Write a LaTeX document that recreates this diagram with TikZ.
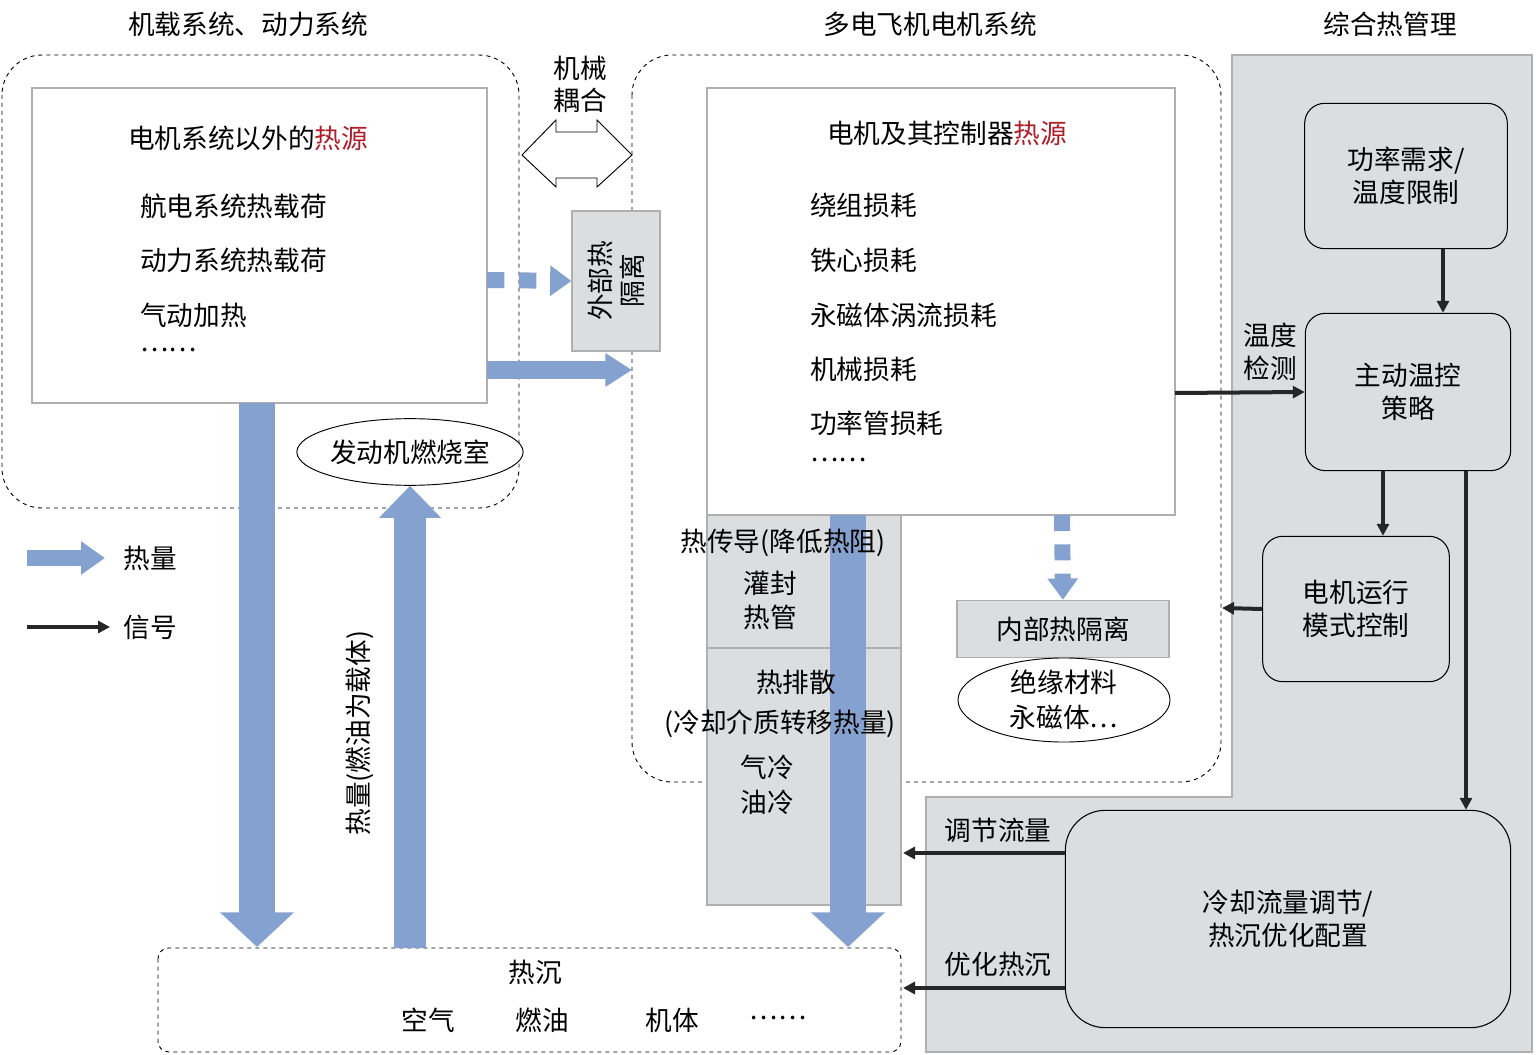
\documentclass[tikz,border=0pt]{standalone}
\usepackage{fontspec}
\setmainfont{Noto Sans CJK SC}
\usetikzlibrary{arrows.meta,shapes.geometric}
\definecolor{heat}{RGB}{133,161,207}
\definecolor{pgray}{RGB}{220,221,223}
\definecolor{bgray}{RGB}{175,175,175}
\definecolor{hred}{RGB}{175,30,40}
\begin{document}
\begin{tikzpicture}[x=0.75pt,y=-0.75pt,
  every node/.style={font=\fontsize{20}{25}\selectfont,inner sep=0pt},
  dbox/.style={draw,dashed,line width=0.7pt,rounded corners=30pt},
  wbox/.style={draw=bgray,fill=white,line width=0.8pt},
  gbox/.style={draw=bgray,fill=pgray,line width=0.8pt},
  rbox/.style={draw,line width=0.8pt,fill=pgray,rounded corners=15pt,align=center},
  heatarr/.style={draw=heat,line width=27pt,-{Triangle[width=54pt,length=26pt]}},
  upheat/.style={draw=heat,line width=24pt,-{Triangle[width=45pt,length=24pt]}},
  sig/.style={draw=black!85,line width=3pt,-{Triangle[width=9pt,length=9pt]}},
  ell/.style={draw,ellipse,line width=0.7pt,align=center}]
\useasboundingbox (0,0) rectangle (1536,1055);
% right gray panel
\fill[pgray,draw=bgray,line width=0.8pt] (1232,55) -- (1532,55) -- (1532,1052) -- (926,1052) -- (926,797) -- (1232,797) -- cycle;
% left system
\draw[dbox] (2,55) rectangle (519,508);
\node (t1) at (248,24) {机载系统、动力系统};
\draw[wbox] (32,88) rectangle (487,403);
\coordinate (lb) at (32,88);
\node (h1) at (248,138) {电机系统以外的\textcolor{hred}{热源}};
\node[anchor=west] (l1) at (140,206) {航电系统热载荷};
\node[anchor=west] (l2) at (140,260) {动力系统热载荷};
\node[anchor=west] (l3) at (140,315) {气动加热};
\node[anchor=west] (l4) at (140,350) {……};
\node[ell,minimum width=159pt,minimum height=50pt,fill=white] (eng) at (410,452) {发动机燃烧室};
% middle
\draw[dbox] (632,55) rectangle (1221,782);
\node (t2) at (930,24) {多电飞机电机系统};
\draw[gbox] (707,515) rectangle (901,905);
\draw[bgray,line width=0.8pt] (707,648) -- (901,648);
\draw[wbox] (707,88) rectangle (1175,515);
\node (h2) at (947,133) {电机及其控制器\textcolor{hred}{热源}};
\node[anchor=west] (m1) at (810,205) {绕组损耗};
\node[anchor=west] (m2) at (810,260) {铁心损耗};
\node[anchor=west] (m3) at (810,315) {永磁体涡流损耗};
\node[anchor=west] (m4) at (810,369) {机械损耗};
\node[anchor=west] (m5) at (810,423) {功率管损耗};
\node[anchor=west] (m6) at (810,460) {……};
% middle column blue arrow
\coordinate (ma) at (848,515);
\coordinate (mb) at (848,947);
\draw[heatarr] (ma) -- (mb);
\node (c1) at (783,543) {热传导(降低热阻)};
\node (c2) at (770,583) {灌封};
\node (c3) at (770,617) {热管};
\node (c4) at (796,682) {热排散};
\node (c5) at (780,724) {(冷却介质转移热量)};
\node (c6) at (767,767) {气冷};
\node (c7) at (767,802) {油冷};
% internal isolation
\node[gbox,minimum width=159pt,minimum height=43pt] (iso) at (1063,629) {内部热隔离};
\coordinate (ia) at (1062,515);
\draw[draw=heat,line width=12pt,dash pattern=on 12pt off 10pt,-{Triangle[width=22pt,length=16pt]}] (ia) -- (iso.north);
\node[ell,minimum width=159pt,minimum height=57pt,fill=white,font=\fontsize{20}{26}\selectfont] (ins) at (1064,700) {绝缘材料\\永磁体…};
% external isolation
\node[gbox,minimum width=66pt,minimum height=105pt] (ext) at (616,281) {};
\node[rotate=90,align=center,font=\fontsize{20}{24}\selectfont] (extt) at (616,281) {外部热\\隔离};
\coordinate (ea) at (487,280);
\draw[draw=heat,line width=12pt,dash pattern=on 13pt off 11pt,-{Triangle[width=22pt,length=16pt]}] (ea) -- (ext.west);
\coordinate (sa) at (487,370);
\coordinate (sb) at (632,370);
\draw[draw=heat,line width=14pt,-{Triangle[width=24pt,length=20pt]}] (sa) -- (sb);
% mechanical coupling
\node[align=center,font=\fontsize{20}{24}\selectfont] (mech) at (580,84) {机械\\耦合};
\draw[line width=0.7pt,fill=white] (522,155) -- (556,120) -- (556,132) -- (597,132) -- (597,120) -- (632,155) -- (597,187) -- (597,178) -- (556,178) -- (556,187) -- cycle;
% heat sink
\draw[dbox,rounded corners=8pt] (158,948) rectangle (901,1052);
\node (sink) at (535,972) {热沉};
\node (s1) at (428,1020) {空气};
\node (s2) at (542,1020) {燃油};
\node (s3) at (672,1020) {机体};
\node (s4) at (778,1018) {……};
% left blue arrows
\coordinate (la) at (257,403);
\coordinate (lbt) at (257,947);
\draw[heatarr] (la) -- (lbt);
\coordinate (ua) at (410,948);
\draw[upheat] (ua) -- (eng.south);
\node[rotate=90] (fuel) at (360,733) {热量(燃油为载体)};
% right panel
\node (t3) at (1390,24) {综合热管理};
\node[rbox,minimum width=152pt,minimum height=109pt] (pw) at (1406,176) {功率需求/\\温度限制};
\node[rbox,minimum width=154pt,minimum height=118pt] (ac) at (1408,392) {主动温控\\策略};
\node[rbox,minimum width=140pt,minimum height=109pt] (mo) at (1356,609) {电机运行\\模式控制};
\node[rbox,rounded corners=30pt,minimum width=334pt,minimum height=163pt] (cf) at (1288,919) {冷却流量调节/\\热沉优化配置};
\draw[sig] (pw.south -| 1443,0) -- (ac.north -| 1443,0);
\coordinate (ts) at (1175,393);
\draw[sig] (ts) -- (ac.west);
\node[align=center] (tl) at (1270,352) {温度\\检测};
\draw[sig] (ac.south -| 1383,0) -- (mo.north -| 1383,0);
\draw[sig] (ac.south -| 1466,0) -- (cf.north -| 1466,0);
\coordinate (mr) at (1222,608);
\draw[sig] (mo.west) -- (mr);
\coordinate (f1) at (903,853);
\coordinate (f2) at (903,988);
\draw[sig] (cf.west |- f1) -- (f1);
\draw[sig] (cf.west |- f2) -- (f2);
\node (fl1) at (998,830) {调节流量};
\node (fl2) at (998,964) {优化热沉};
% legend
\coordinate (g1) at (27,558); \coordinate (g2) at (105,558);
\draw[draw=heat,line width=12pt,-{Triangle[width=24pt,length=18pt]}] (g1) -- (g2);
\node (gl1) at (150,558) {热量};
\coordinate (g3) at (27,627); \coordinate (g4) at (110,627);
\draw[sig] (g3) -- (g4);
\node (gl2) at (150,627) {信号};
\end{tikzpicture}
\end{document}
